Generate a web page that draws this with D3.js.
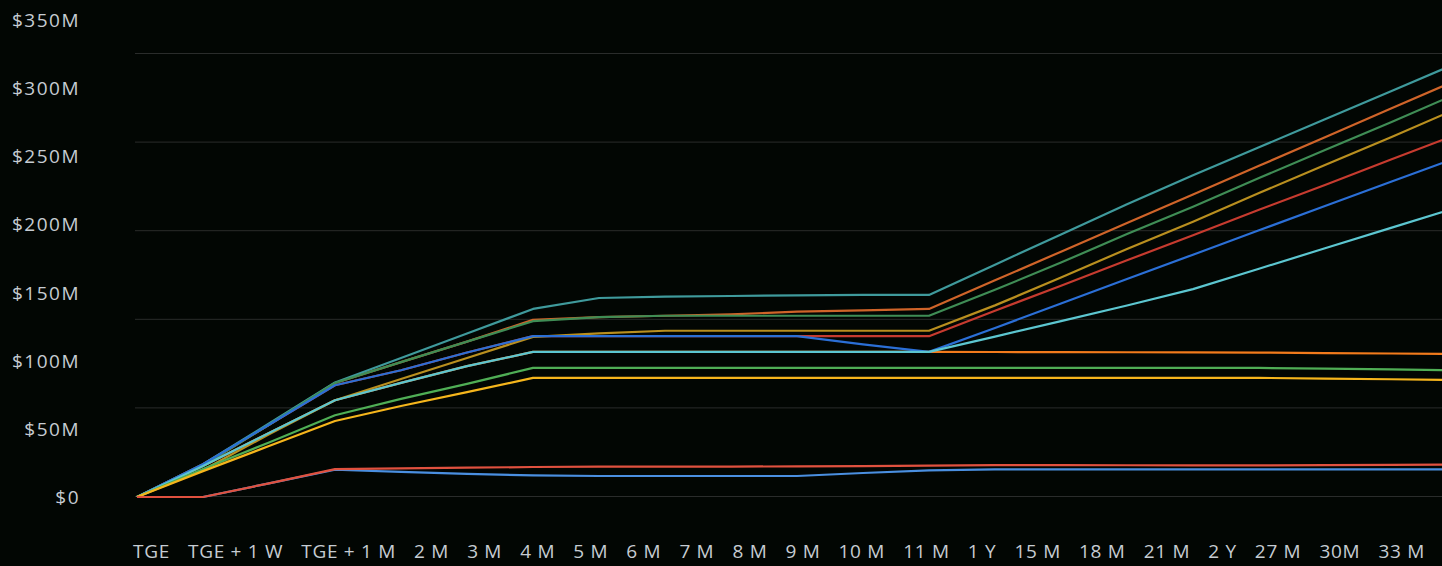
<!DOCTYPE html>
<html>
<head>
<meta charset="utf-8">
<script src="https://cdn.jsdelivr.net/npm/d3@7"></script>
<style>
  html, body { margin: 0; padding: 0; background: #020603; }
  #chart { width: 1442px; height: 566px; overflow: hidden; }
</style>
</head>
<body>
<div id="chart"></div>
<script>
// data points along the schedule (values in $M)
var periods = ['TGE', 'TGE + 1 W', 'TGE + 2 W', 'TGE + 1 M', '2 M', '3 M', '4 M', '5 M', '6 M', '7 M',
  '8 M', '9 M', '10 M', '11 M', '1 Y', '15 M', '18 M', '21 M', '2 Y', '27 M', '30 M'];

var tickLabels = ['TGE', 'TGE + 1 W', 'TGE + 1 M', '2 M', '3 M', '4 M', '5 M', '6 M', '7 M', '8 M',
  '9 M', '10 M', '11 M', '1 Y', '15 M', '18 M', '21 M', '2 Y', '27 M', '30M', '33 M'];

var yTicks = [0, 50, 100, 150, 200, 250, 300, 350];

var tealVals = [0, 24, 54, 84, 102, 120, 138, 146, 147, 147.5, 148, 148.3, 148.3, 170.5, 192.7, 214.8, 236, 256.6, 277.2, 297.8, 318.4];
var rustVals = [0, 23, 53, 83.7, 99, 114, 130, 132, 133, 134, 136, 137, 138, 159, 180, 201, 222, 243, 264, 285, 306];
var pineVals = [0, 23, 53, 83.7, 99, 114, 129, 132, 133, 133, 133, 133, 133, 152, 172, 193, 213, 234, 254.6, 275, 296];
var goldVals = [0, 19.8, 46, 71, 86.6, 102, 117.5, 120, 122, 122, 122, 122, 122, 140.6, 161, 182, 202, 223, 243.6, 264, 285];
var redVals = [0, 24, 53, 82, 93, 106, 118, 118, 118, 118, 118, 118, 118, 136.7, 155, 173.7, 192, 210.7, 229, 247.7, 266];
var blueVals = [0, 24, 53, 82, 93, 106, 118, 118, 118, 118, 118, 112, 106.5, 124, 142, 160, 177.8, 195.7, 213.5, 231.3, 249];
var cyanVals = [0, 22.8, 47, 71, 83.7, 96, 106.5, 106.5, 106.5, 106.5, 106.5, 106.5, 106.5, 117.7, 129, 140.5, 152.5, 167.5, 182.5, 197.5, 212.5];
var orangeVals = [0, 22.8, 47, 71, 83.7, 96, 106.5, 106.5, 106.5, 106.5, 106.5, 106.5, 106.5, 106.4, 106.3, 106.2, 106.1, 106, 105.6, 105.3, 105];
var greenVals = [0, 20.5, 40, 60, 72, 83, 94.7, 94.7, 94.7, 94.7, 94.7, 94.7, 94.7, 94.7, 94.7, 94.7, 94.7, 94.7, 94.2, 93.6, 93];
var yellowVals = [0, 19, 37.4, 55.8, 66.8, 77, 87.4, 87.4, 87.4, 87.4, 87.4, 87.4, 87.4, 87.4, 87.4, 87.4, 87.4, 87.4, 86.9, 86.4, 85.9];
var redLowVals = [0, 0, 10, 20.5, 21, 21.5, 22, 22.3, 22.3, 22.3, 22.5, 22.7, 23, 23.4, 23.4, 23.3, 23.2, 23.2, 23.4, 23.6, 23.8];
var blueLowVals = [0, 0, 10, 20, 18.4, 17, 15.8, 15.4, 15.4, 15.4, 15.4, 17.6, 19.5, 20.2, 20.2, 20.2, 20.2, 20.2, 20.2, 20.3, 20.3];

(function() {
  var width = 1442, height = 566;

  // draw order matters: later lines sit on top where they overlap
  var series = [
    { values: orangeVals, colour: '#f27b1c' },
    { values: redVals, colour: '#c63b2f' },
    { values: rustVals, colour: '#cf6429' },
    { values: tealVals, colour: '#3f9a9c' },
    { values: pineVals, colour: '#3f8d55' },
    { values: goldVals, colour: '#b98f1f' },
    { values: blueVals, colour: '#2b6fd6' },
    { values: cyanVals, colour: '#5cc6d0' },
    { values: greenVals, colour: '#4fae55' },
    { values: yellowVals, colour: '#f5b51c' },
    { values: blueLowVals, colour: '#4a8fe0' },
    { values: redLowVals, colour: '#e0513f' }
  ];

  var svg = d3.select('#chart')
    .append('svg')
    .attr('width', width)
    .attr('height', height)
    .style('display', 'block');

  var x = d3.scalePoint()
    .domain(periods)
    .range([137, 1457]);

  var y = d3.scaleLinear()
    .domain([0, 350])
    .range([497, 20]);

  // grid rows are spaced on their own, not on the label ticks
  var grid = d3.scaleLinear()
    .domain([0, 5])
    .range([496.5, 53.5]);

  svg.append('g')
    .selectAll('line')
    .data(grid.ticks(5))
    .enter()
    .append('line')
    .attr('x1', 135)
    .attr('x2', width)
    .attr('y1', function(d) { return grid(d); })
    .attr('y2', function(d) { return grid(d); })
    .attr('stroke', '#2a2c2b')
    .attr('stroke-width', 1);

  svg.append('g')
    .selectAll('text')
    .data(yTicks)
    .enter()
    .append('text')
    .attr('x', 80)
    .attr('y', function(d) { return y(d); })
    .attr('text-anchor', 'end')
    .attr('dominant-baseline', 'central')
    .attr('fill', '#c6ccd2')
    .style('font-family', '"Open Sans", sans-serif')
    .style('font-size', '19px')
    .style('letter-spacing', '1.5px')
    .text(function(d) { return d === 0 ? '$0' : '$' + d + 'M'; });

  var line = d3.line()
    .x(function(d, i) { return x(periods[i]); })
    .y(function(d) { return y(d); });

  svg.append('g')
    .selectAll('path')
    .data(series)
    .enter()
    .append('path')
    .attr('d', function(s) { return line(s.values); })
    .attr('fill', 'none')
    .attr('stroke', function(s) { return s.colour; })
    .attr('stroke-width', 2.2)
    .attr('stroke-linejoin', 'round');

  // bottom labels are laid out in a row with equal gaps
  var labels = svg.append('g')
    .selectAll('text')
    .data(tickLabels)
    .enter()
    .append('text')
    .attr('y', 551)
    .attr('dominant-baseline', 'central')
    .attr('fill', '#c6ccd2')
    .style('font-family', '"Open Sans", sans-serif')
    .style('font-size', '19px')
    .style('letter-spacing', '0.7px')
    .text(function(d) { return d; });

  var widths = [];
  labels.each(function() { widths.push(this.getComputedTextLength()); });
  var left = 133, right = 1425;
  var gap = (right - left - d3.sum(widths)) / (widths.length - 1);
  var pos = left;
  labels.attr('x', function(d, i) {
    var at = pos;
    pos += widths[i] + gap;
    return at;
  });
}());
</script>
</body>
</html>
